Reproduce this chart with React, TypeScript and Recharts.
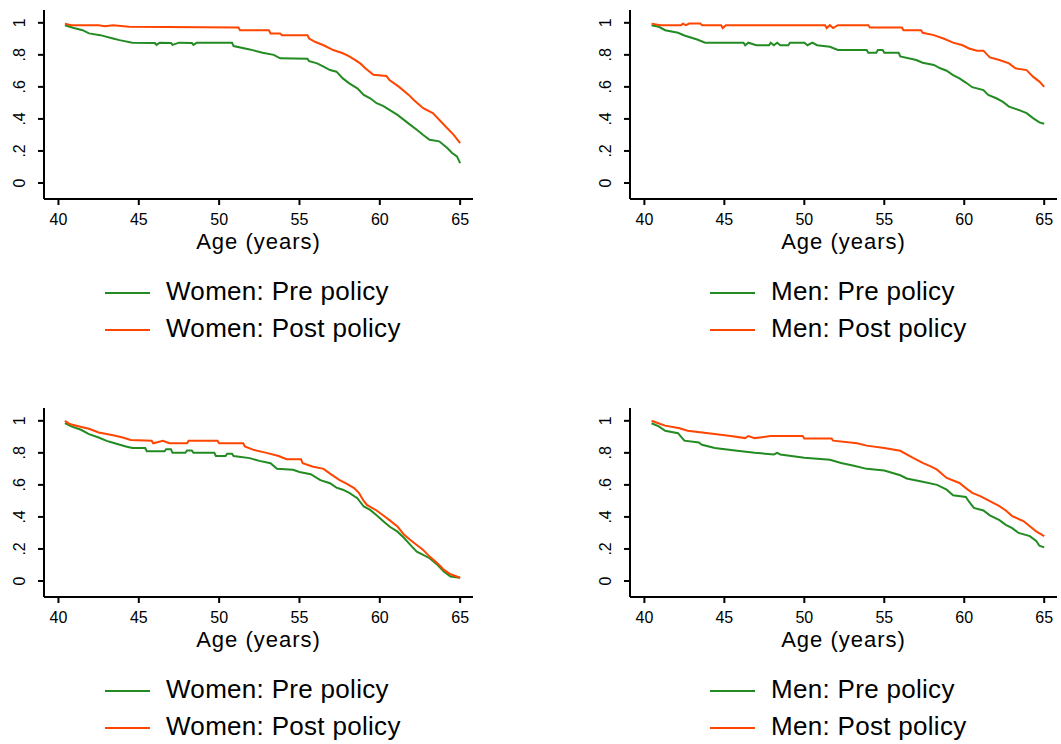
import React from 'react';
import { LineChart, Line, XAxis, YAxis, Legend } from 'recharts';

const AGE_TICKS = [40, 45, 50, 55, 60, 65];
const SHARE_TICKS = [0, 0.2, 0.4, 0.6, 0.8, 1];
const SHARE_LABELS = ['0', '.2', '.4', '.6', '.8', '1'];

const GREEN = '#228B22';
const ORANGE = '#FF4500';
const FONT = '"Liberation Sans", Arial, sans-serif';

// Top-left: women, first sample
const womenPreA: [number, number][] = [
  [40.4, 0.985], [40.9, 0.969], [41.5, 0.954], [41.9, 0.934], [42.6, 0.923], [43.4, 0.902], [43.8, 0.892],
  [44.6, 0.876], [46.0, 0.874], [46.1, 0.862], [46.3, 0.876], [47.0, 0.874], [47.1, 0.862], [47.5, 0.876],
  [48.3, 0.874], [48.4, 0.862], [48.6, 0.876], [50.8, 0.876], [50.9, 0.855], [51.9, 0.834], [52.7, 0.813],
  [53.4, 0.8], [53.8, 0.778], [55.5, 0.775], [55.6, 0.761], [56.1, 0.747], [56.5, 0.726], [56.9, 0.705],
  [57.3, 0.695], [57.7, 0.653], [58.1, 0.622], [58.6, 0.591], [59.0, 0.55], [59.4, 0.529], [59.8, 0.498],
  [60.2, 0.481], [60.6, 0.456], [61.1, 0.425], [61.5, 0.394], [61.9, 0.363], [62.3, 0.332], [62.7, 0.3],
  [63.1, 0.27], [63.7, 0.26], [64.2, 0.218], [64.5, 0.187], [64.8, 0.166], [65.0, 0.124],
];
const womenPostA: [number, number][] = [
  [40.4, 0.995], [40.8, 0.985], [42.5, 0.985], [42.9, 0.978], [43.4, 0.985], [44.4, 0.975], [51.2, 0.971],
  [51.3, 0.954], [53.1, 0.954], [53.2, 0.934], [53.8, 0.934], [53.9, 0.923], [55.5, 0.923], [55.6, 0.902],
  [56.0, 0.88], [56.5, 0.86], [57.1, 0.83], [57.7, 0.81], [58.1, 0.79], [58.5, 0.765], [58.8, 0.745],
  [59.1, 0.716], [59.6, 0.675], [60.4, 0.668], [60.6, 0.643], [61.2, 0.6], [61.8, 0.55], [62.1, 0.52],
  [62.7, 0.467], [63.3, 0.436], [63.8, 0.384], [64.2, 0.342], [64.6, 0.3], [65.0, 0.249],
];

// Top-right: men, first sample
const menPreA: [number, number][] = [
  [40.45, 0.985], [40.9, 0.975], [41.3, 0.954], [42.1, 0.938], [42.5, 0.921], [43.3, 0.896], [43.8, 0.876],
  [46.2, 0.876], [46.3, 0.86], [46.5, 0.876], [47.0, 0.86], [47.8, 0.86], [47.9, 0.876], [48.1, 0.86],
  [48.3, 0.876], [48.5, 0.86], [49.0, 0.86], [49.1, 0.876], [50.0, 0.876], [50.2, 0.86], [50.5, 0.876],
  [50.8, 0.86], [51.6, 0.85], [52.1, 0.83], [53.9, 0.83], [54.0, 0.813], [54.5, 0.813], [54.6, 0.83],
  [54.9, 0.83], [55.0, 0.813], [55.9, 0.813], [56.0, 0.79], [57.0, 0.768], [57.4, 0.751], [58.1, 0.737],
  [58.5, 0.716], [58.9, 0.701], [59.3, 0.674], [59.7, 0.653], [60.1, 0.627], [60.5, 0.598], [61.2, 0.58],
  [61.5, 0.55], [62.0, 0.529], [62.4, 0.508], [62.8, 0.477], [63.4, 0.456], [63.9, 0.436], [64.3, 0.405],
  [64.7, 0.378], [65.0, 0.37],
];
const menPostA: [number, number][] = [
  [40.45, 0.995], [41.0, 0.985], [42.3, 0.985], [42.4, 0.995], [42.6, 0.985], [42.8, 0.995], [43.5, 0.995],
  [43.6, 0.985], [44.8, 0.985], [44.9, 0.967], [45.1, 0.985], [51.3, 0.985], [51.4, 0.967], [51.6, 0.985],
  [51.8, 0.967], [52.1, 0.985], [54.0, 0.985], [54.1, 0.971], [56.1, 0.971], [56.2, 0.954], [57.3, 0.954],
  [57.4, 0.938], [58.1, 0.923], [58.7, 0.902], [59.3, 0.876], [59.9, 0.86], [60.3, 0.84], [60.8, 0.826],
  [61.2, 0.826], [61.6, 0.784], [62.2, 0.768], [62.8, 0.747], [63.2, 0.716], [63.9, 0.705], [64.3, 0.664],
  [64.7, 0.633], [65.0, 0.6],
];

// Bottom-left: women, second sample
const womenPreB: [number, number][] = [
  [40.4, 0.985], [40.8, 0.965], [41.4, 0.944], [41.9, 0.917], [42.5, 0.896], [43.0, 0.875], [43.5, 0.86],
  [44.2, 0.84], [44.6, 0.83], [45.4, 0.83], [45.5, 0.81], [46.6, 0.81], [46.7, 0.823], [47.0, 0.823],
  [47.1, 0.8], [47.9, 0.8], [48.0, 0.815], [48.3, 0.815], [48.4, 0.8], [49.7, 0.8], [49.8, 0.78],
  [50.4, 0.78], [50.5, 0.795], [50.8, 0.795], [50.9, 0.78], [51.9, 0.767], [52.5, 0.75], [53.2, 0.735],
  [53.6, 0.7], [54.6, 0.694], [55.0, 0.68], [55.7, 0.667], [56.3, 0.63], [56.9, 0.61], [57.3, 0.583],
  [57.7, 0.57], [58.1, 0.55], [58.6, 0.517], [59.0, 0.465], [59.4, 0.444], [59.8, 0.41], [60.2, 0.375],
  [60.6, 0.34], [61.1, 0.308], [61.5, 0.27], [61.9, 0.225], [62.3, 0.183], [62.7, 0.163], [63.1, 0.142],
  [63.6, 0.1], [64.0, 0.058], [64.4, 0.027], [65.0, 0.02],
];
const womenPostB: [number, number][] = [
  [40.4, 1.0], [40.7, 0.98], [41.3, 0.965], [41.9, 0.95], [42.5, 0.927], [43.4, 0.91], [44.0, 0.896],
  [44.5, 0.88], [45.8, 0.875], [45.9, 0.86], [46.5, 0.875], [46.9, 0.86], [48.0, 0.86], [48.1, 0.875],
  [49.9, 0.875], [50.0, 0.86], [51.5, 0.86], [51.6, 0.84], [52.1, 0.82], [52.95, 0.8], [53.7, 0.78],
  [54.2, 0.76], [55.1, 0.76], [55.2, 0.735], [55.8, 0.715], [56.5, 0.7], [56.9, 0.67], [57.5, 0.63],
  [57.9, 0.61], [58.4, 0.58], [58.7, 0.55], [59.0, 0.5], [59.2, 0.475], [59.8, 0.44], [60.2, 0.41],
  [60.6, 0.38], [61.1, 0.34], [61.5, 0.29], [61.9, 0.256], [62.3, 0.225], [62.7, 0.194], [63.1, 0.152],
  [63.6, 0.11], [64.0, 0.069], [64.4, 0.042], [65.0, 0.02],
];

// Bottom-right: men, second sample
const menPreB: [number, number][] = [
  [40.45, 0.985], [40.9, 0.965], [41.3, 0.938], [42.1, 0.923], [42.5, 0.876], [43.4, 0.865], [43.6, 0.85],
  [44.4, 0.83], [45.8, 0.813], [46.9, 0.8], [48.1, 0.79], [48.3, 0.8], [48.5, 0.79], [50.0, 0.77],
  [51.6, 0.757], [52.3, 0.737], [53.1, 0.72], [53.9, 0.7], [55.0, 0.69], [56.0, 0.66], [56.4, 0.64],
  [57.4, 0.62], [58.3, 0.6], [58.9, 0.57], [59.3, 0.535], [60.1, 0.525], [60.3, 0.495], [60.6, 0.456],
  [61.2, 0.44], [61.6, 0.41], [62.2, 0.38], [62.6, 0.35], [63.0, 0.33], [63.4, 0.3], [64.1, 0.28],
  [64.5, 0.25], [64.7, 0.22], [65.0, 0.21],
];
const menPostB: [number, number][] = [
  [40.45, 1.0], [41.0, 0.98], [41.3, 0.97], [42.2, 0.954], [42.7, 0.938], [44.0, 0.923], [45.4, 0.905],
  [46.3, 0.892], [46.5, 0.905], [46.9, 0.892], [47.9, 0.905], [49.9, 0.905], [50.0, 0.89], [51.7, 0.89],
  [51.8, 0.876], [53.3, 0.86], [53.9, 0.845], [55.0, 0.83], [56.0, 0.813], [56.4, 0.79], [56.8, 0.768],
  [57.4, 0.737], [57.9, 0.716], [58.3, 0.695], [58.9, 0.643], [59.7, 0.612], [60.1, 0.58], [60.5, 0.55],
  [61.0, 0.53], [61.6, 0.498], [62.2, 0.467], [62.6, 0.44], [63.0, 0.405], [63.7, 0.374], [64.1, 0.342],
  [64.5, 0.31], [65.0, 0.28],
];

const toRows = (pts: [number, number][]) => pts.map(([age, share]) => ({ age, share }));

const YTick = (props: any) => {
  const { x, y, payload } = props;
  const idx = SHARE_TICKS.findIndex((t) => Math.abs(t - payload.value) < 1e-6);
  const label = idx >= 0 ? SHARE_LABELS[idx] : String(payload.value);
  const tx = x - 13;
  return (
    <text
      x={tx}
      y={y}
      transform={`rotate(-90 ${tx} ${y})`}
      textAnchor="middle"
      fontSize={16}
      fontFamily={FONT}
      fill="#000"
    >
      {label}
    </text>
  );
};

const makeLegend = (order: string[]) => (props: any) => {
  const items = [...(props.payload || [])].sort(
    (a: any, b: any) => order.indexOf(a.value) - order.indexOf(b.value)
  );
  return (
    <svg width={330} height={80} style={{ display: 'block' }}>
      {items.map((it: any, i: number) => {
        const ly = 20 + i * 37;
        return (
          <g key={it.value}>
            <line x1={5} x2={50} y1={ly} y2={ly} stroke={it.color} strokeWidth={2} />
            <text
              x={66}
              y={ly + 7}
              fontSize={26}
              fontFamily={FONT}
              letterSpacing={0.3}
              fill="#000"
            >
              {it.value}
            </text>
          </g>
        );
      })}
    </svg>
  );
};

type PanelProps = {
  left: number;
  top: number;
  width: number;
  rightMargin: number;
  pre: [number, number][];
  post: [number, number][];
  preName: string;
  postName: string;
  legendLeft: number;
};

const Panel = ({ left, top, width, rightMargin, pre, post, preName, postName, legendLeft }: PanelProps) => (
  <div style={{ position: 'absolute', left, top }}>
    <LineChart width={width} height={345} margin={{ top: 10, right: rightMargin, left: 0, bottom: 86 }}>
      <XAxis
        type="number"
        dataKey="age"
        domain={[39.1, 65.8]}
        allowDataOverflow
        ticks={AGE_TICKS}
        height={60}
        tickSize={6}
        tickMargin={9}
        axisLine={{ stroke: '#000', strokeWidth: 2 }}
        tickLine={{ stroke: '#000', strokeWidth: 2 }}
        tick={{ fontSize: 16, fill: '#000', fontFamily: FONT }}
        label={{
          value: 'Age (years)',
          position: 'insideBottom',
          offset: 10,
          fontSize: 22,
          fill: '#000',
          fontFamily: FONT,
          letterSpacing: 1,
        }}
      />
      <YAxis
        type="number"
        dataKey="share"
        domain={[-0.1, 1.08]}
        allowDataOverflow
        ticks={SHARE_TICKS}
        width={44}
        tickSize={6}
        tickMargin={0}
        axisLine={{ stroke: '#000', strokeWidth: 2 }}
        tickLine={{ stroke: '#000', strokeWidth: 2 }}
        tick={<YTick />}
      />
      <Line
        data={toRows(pre)}
        dataKey="share"
        name={preName}
        type="linear"
        stroke={GREEN}
        strokeWidth={2}
        dot={false}
        isAnimationActive={false}
      />
      <Line
        data={toRows(post)}
        dataKey="share"
        name={postName}
        type="linear"
        stroke={ORANGE}
        strokeWidth={2}
        dot={false}
        isAnimationActive={false}
      />
      <Legend
        layout="vertical"
        align="center"
        verticalAlign="middle"
        wrapperStyle={{ left: legendLeft, top: 273, width: 330, height: 80 }}
        content={makeLegend([preName, postName])}
      />
    </LineChart>
  </div>
);

export default function App() {
  return (
    <div
      style={{
        position: 'absolute',
        left: 0,
        top: 0,
        width: 1061,
        height: 744,
        background: '#fff',
        overflow: 'hidden',
      }}
    >
      <Panel left={0} top={0} width={480} rightMargin={7} pre={womenPreA} post={womenPostA}
        preName="Women: Pre policy" postName="Women: Post policy" legendLeft={100} />
      <Panel left={586} top={0} width={475} rightMargin={4} pre={menPreA} post={menPostA}
        preName="Men: Pre policy" postName="Men: Post policy" legendLeft={119} />
      <Panel left={0} top={398} width={480} rightMargin={7} pre={womenPreB} post={womenPostB}
        preName="Women: Pre policy" postName="Women: Post policy" legendLeft={100} />
      <Panel left={586} top={398} width={475} rightMargin={4} pre={menPreB} post={menPostB}
        preName="Men: Pre policy" postName="Men: Post policy" legendLeft={119} />
    </div>
  );
}
